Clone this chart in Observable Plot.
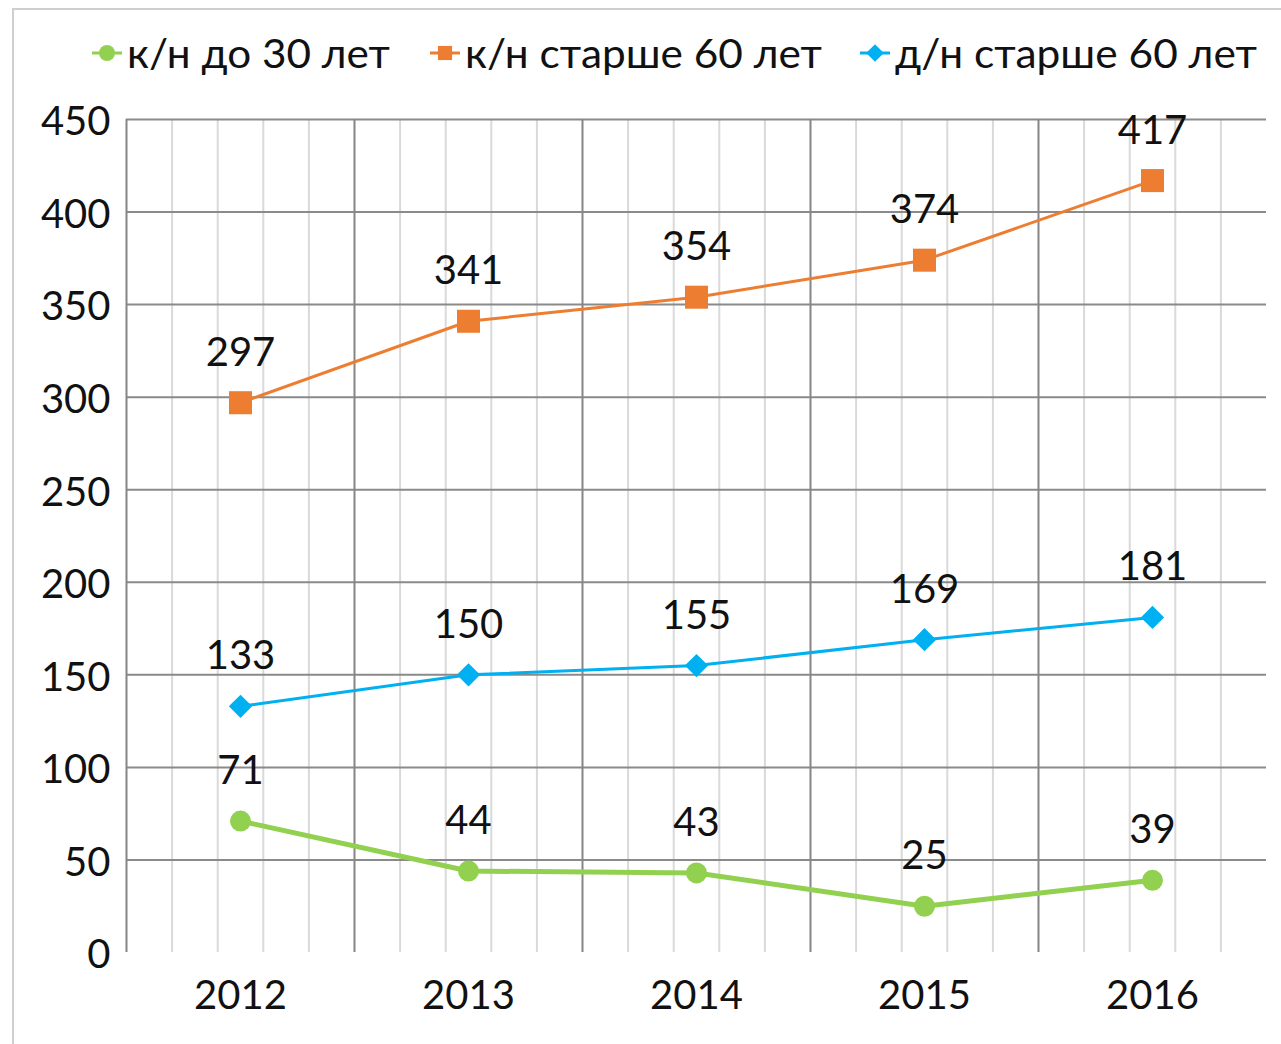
<!DOCTYPE html>
<html>
<head>
<meta charset="utf-8">
<script src="https://cdn.jsdelivr.net/npm/d3@7"></script>
<script src="https://cdn.jsdelivr.net/npm/@observablehq/plot@0.6"></script>
<style>
  html, body { margin: 0; padding: 0; background: #fff; }
  #wrap { position: relative; width: 1281px; height: 1044px; overflow: hidden; font-family: Lato, "Noto Sans", sans-serif; color: #111; }
  #frame { position: absolute; left: 12px; top: 8px; right: -10px; bottom: -10px; border-left: 2px solid #cfcfcf; border-top: 2px solid #cfcfcf; }
  #legend { position: absolute; left: 0; top: 28px; width: 1281px; height: 50px; font-size: 40px; line-height: 50px; white-space: nowrap; }
  .item { position: absolute; top: 0; display: flex; align-items: center; }
  .item svg { margin-right: 5px; }
  .lab { display: inline-block; transform-origin: left center; }
  #chart { position: absolute; left: 0; top: 100px; }
</style>
</head>
<body>
<div id="wrap">
  <div id="frame"></div>
  <div id="legend"></div>
  <div id="chart"></div>
</div>
<script>
// ---- data ----
const years = ["2012", "2013", "2014", "2015", "2016"];
const seriesNames = ["к/н до 30 лет", "к/н старше 60 лет", "д/н старше 60 лет"];
const youngK = [71, 44, 43, 25, 39];      // к/н до 30 лет
const olderK = [297, 341, 354, 374, 417]; // к/н старше 60 лет
const olderD = [133, 150, 155, 169, 181]; // д/н старше 60 лет
const yTicks = [0, 50, 100, 150, 200, 250, 300, 350, 400, 450];

// ---- styles ----
const colors = ["#92d050", "#ed7d31", "#00b0f0"];
const symbols = ["circle", "square", "diamond2"];
const dotR = [10.5, 13, 10.5];
const lineW = [5, 3, 3];
const legendLeft = [92, 430, 860];
const legendWidths = [263, 357, 362];

const seriesValues = [youngK, olderK, olderD];
const rows = seriesValues.flatMap((vals, s) =>
  vals.map((v, i) => ({ series: seriesNames[s], s, i, year: years[i], value: v })));

// ---- legend ----
const legend = document.getElementById("legend");
seriesNames.forEach((name, s) => {
  const item = document.createElement("div");
  item.className = "item";
  item.style.left = legendLeft[s] + "px";
  const sw = d3.create("svg").attr("width", 30).attr("height", 24);
  sw.append("line").attr("x1", 0).attr("x2", 30).attr("y1", 12).attr("y2", 12)
    .attr("stroke", colors[s]).attr("stroke-width", 3);
  const sym = { circle: d3.symbolCircle, square: d3.symbolSquare, diamond2: d3.symbolDiamond2 }[symbols[s]];
  sw.append("path").attr("d", d3.symbol(sym, 200)()).attr("transform", "translate(15,12)")
    .attr("fill", colors[s]);
  item.appendChild(sw.node());
  const lab = document.createElement("span");
  lab.className = "lab";
  lab.textContent = name;
  item.appendChild(lab);
  legend.appendChild(item);
});
document.querySelectorAll("#legend .lab").forEach((el, s) => {
  const w = el.getBoundingClientRect().width;
  el.style.transform = `scaleX(${legendWidths[s] / w})`;
  el.style.width = legendWidths[s] + "px";
});

// ---- chart ----
const W = 1281, H = 944;
const minorX = d3.range(0, 25).filter(k => k % 5 !== 0).map(k => -0.5 + k / 5);
const majorX = d3.range(0, 25).filter(k => k % 5 === 0).map(k => -0.5 + k / 5);

const marks = [
  Plot.ruleX(minorX, { x: d => d, y1: 0, y2: 450, stroke: "#d9d9d9", strokeWidth: 2 }),
  Plot.ruleY(yTicks.filter(t => t > 0), { y: d => d, x1: -0.5, x2: 4.5, stroke: "#8a8a8a", strokeWidth: 2 }),
  Plot.ruleX(majorX, { x: d => d, y1: 0, y2: 450, stroke: "#858585", strokeWidth: 2 }),
  Plot.axisY(yTicks, { tickSize: 0, tickPadding: 16, fontSize: 40, fill: "#111", dy: 3, label: null }),
  Plot.axisX(d3.range(years.length), { tickSize: 0, tickPadding: 28, fontSize: 40, fill: "#111", tickFormat: i => years[i], label: null })
];
seriesNames.forEach((name, s) => {
  const d = rows.filter(r => r.s === s);
  marks.push(Plot.line(d, { x: "i", y: "value", stroke: colors[s], strokeWidth: lineW[s] }));
  marks.push(Plot.dot(d, { x: "i", y: "value", fill: colors[s], r: dotR[s], symbol: symbols[s], stroke: "none" }));
  marks.push(Plot.text(d, { x: "i", y: "value", text: "value", dy: -37, lineAnchor: "bottom", fontSize: 40, fill: "#111" }));
});

const chart = Plot.plot({
  width: W,
  height: H,
  marginLeft: 126,
  marginRight: 15,
  marginTop: 19,
  marginBottom: 92,
  style: { fontFamily: "Lato, 'Noto Sans', sans-serif", background: "transparent", overflow: "visible" },
  x: { type: "linear", domain: [-0.5, 4.5], axis: null },
  y: { type: "linear", domain: [0, 450], axis: null },
  marks
});
document.getElementById("chart").appendChild(chart);
</script>
</body>
</html>
